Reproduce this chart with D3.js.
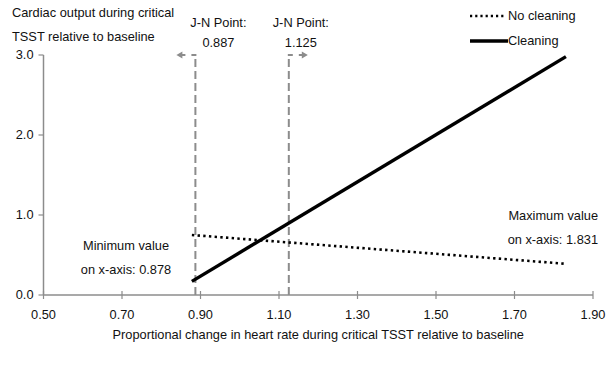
<!DOCTYPE html>
<html>
<head>
<meta charset="utf-8">
<script src="https://cdn.jsdelivr.net/npm/d3@7/dist/d3.min.js"></script>
<style>
  body { margin: 0; background: #fff; }
  text { font-family: "Liberation Sans", Arial, sans-serif; font-size: 12.8px; fill: #111; }
</style>
</head>
<body>
<svg id="chart" width="610" height="369"></svg>
<script>
// data
const xTicks = [0.50, 0.70, 0.90, 1.10, 1.30, 1.50, 1.70, 1.90];
const yTicks = [0.0, 1.0, 2.0, 3.0];
const xRangeObs = [0.878, 1.831];          // min / max of moderator
const noCleaning = [0.75, 0.39];           // predicted at min / max
const cleaning = [0.17, 2.98];
const jnPoints = [0.887, 1.125];
const jnDir = [-1, 1];                      // arrow direction per J-N point
const jnLabelShift = [23, 12];              // label offset from its line

const svg = d3.select("#chart");
const axisColor = "#8c8c8c";

const x = d3.scaleLinear().domain([0.5, 1.9]).range([43.5, 593]);
const y = d3.scaleLinear().domain([0, 3]).range([295, 55]);

// x axis: ticks crossing the line
const gx = svg.append("g").attr("transform", `translate(0,${y(0)})`);
gx.append("line")
  .attr("x1", x(0.5)).attr("x2", x(1.9))
  .attr("stroke", axisColor).attr("stroke-width", 1.5);
gx.selectAll(".xt").data(xTicks).join("line")
  .attr("x1", d => x(d)).attr("x2", d => x(d))
  .attr("y1", -4).attr("y2", 4)
  .attr("stroke", axisColor).attr("stroke-width", 1.2);
gx.selectAll(".xl").data(xTicks).join("text")
  .attr("x", d => x(d)).attr("y", 24)
  .attr("text-anchor", "middle")
  .text(d => d3.format(".2f")(d));

// y axis: ticks outside
const gy = svg.append("g").attr("transform", `translate(${x(0.5)},0)`);
gy.append("line")
  .attr("y1", y(0)).attr("y2", y(3))
  .attr("stroke", axisColor).attr("stroke-width", 1.5);
gy.selectAll(".yt").data(yTicks).join("line")
  .attr("x1", -5).attr("x2", 0)
  .attr("y1", d => y(d)).attr("y2", d => y(d))
  .attr("stroke", axisColor).attr("stroke-width", 1.2);
gy.selectAll(".yl").data(yTicks).join("text")
  .attr("x", -10).attr("y", d => y(d) + 4)
  .attr("text-anchor", "end")
  .text(d => d3.format(".1f")(d));

// J-N dashed lines with little arrows at the top
const jn = svg.append("g");
jnPoints.forEach((p, i) => {
  const px = x(p), top = y(3);
  const dir = jnDir[i];
  jn.append("line")
    .attr("x1", px).attr("x2", px).attr("y1", y(0)).attr("y2", top)
    .attr("stroke", axisColor).attr("stroke-width", 2)
    .attr("stroke-dasharray", "8,4");
  jn.append("line")
    .attr("x1", px - dir).attr("x2", px + dir * 4)
    .attr("y1", top).attr("y2", top)
    .attr("stroke", axisColor).attr("stroke-width", 2);
  jn.append("line")
    .attr("x1", px + dir * 10).attr("x2", px + dir * 14)
    .attr("y1", top).attr("y2", top)
    .attr("stroke", axisColor).attr("stroke-width", 2);
  jn.append("path")
    .attr("d", `M${px + dir * 19},${top} L${px + dir * 13},${top - 3.5} L${px + dir * 13},${top + 3.5} Z`)
    .attr("fill", axisColor);
  const lx = px + jnLabelShift[i];
  jn.append("text")
    .attr("x", lx).attr("y", 27).attr("text-anchor", "middle")
    .text("J-N Point:");
  jn.append("text")
    .attr("x", lx).attr("y", 47).attr("text-anchor", "middle")
    .text(d3.format(".3f")(p));
});

// regression lines
const line = d3.line().x(d => x(d[0])).y(d => y(d[1]));
svg.append("path")
  .datum(xRangeObs.map((v, i) => [v, noCleaning[i]]))
  .attr("d", line).attr("fill", "none")
  .attr("stroke", "#000").attr("stroke-width", 2.6)
  .attr("stroke-dasharray", "2.4,3.3");
svg.append("path")
  .datum(xRangeObs.map((v, i) => [v, cleaning[i]]))
  .attr("d", line).attr("fill", "none")
  .attr("stroke", "#000").attr("stroke-width", 3.4);

// legend
const lg = svg.append("g");
lg.append("line").attr("x1", 470).attr("x2", 506).attr("y1", 16).attr("y2", 16)
  .attr("stroke", "#000").attr("stroke-width", 2.4).attr("stroke-dasharray", "2.2,3");
lg.append("text").attr("x", 508).attr("y", 20).text("No cleaning");
lg.append("line").attr("x1", 470).attr("x2", 508).attr("y1", 41).attr("y2", 41)
  .attr("stroke", "#000").attr("stroke-width", 3.4);
lg.append("text").attr("x", 508).attr("y", 45).text("Cleaning");

// titles and annotations
svg.append("text").attr("x", 12).attr("y", 17).text("Cardiac output during critical");
svg.append("text").attr("x", 12).attr("y", 41).text("TSST relative to baseline");
svg.append("text").attr("x", x(1.2)).attr("y", 339).attr("text-anchor", "middle")
  .text("Proportional change in heart rate during critical TSST relative to baseline");

svg.append("text").attr("x", 126).attr("y", 250).attr("text-anchor", "middle").text("Minimum value");
svg.append("text").attr("x", 126).attr("y", 274).attr("text-anchor", "middle").text("on x-axis: 0.878");
svg.append("text").attr("x", 598).attr("y", 220).attr("text-anchor", "end").text("Maximum value");
svg.append("text").attr("x", 598).attr("y", 244).attr("text-anchor", "end").text("on x-axis: 1.831");
</script>
</body>
</html>
